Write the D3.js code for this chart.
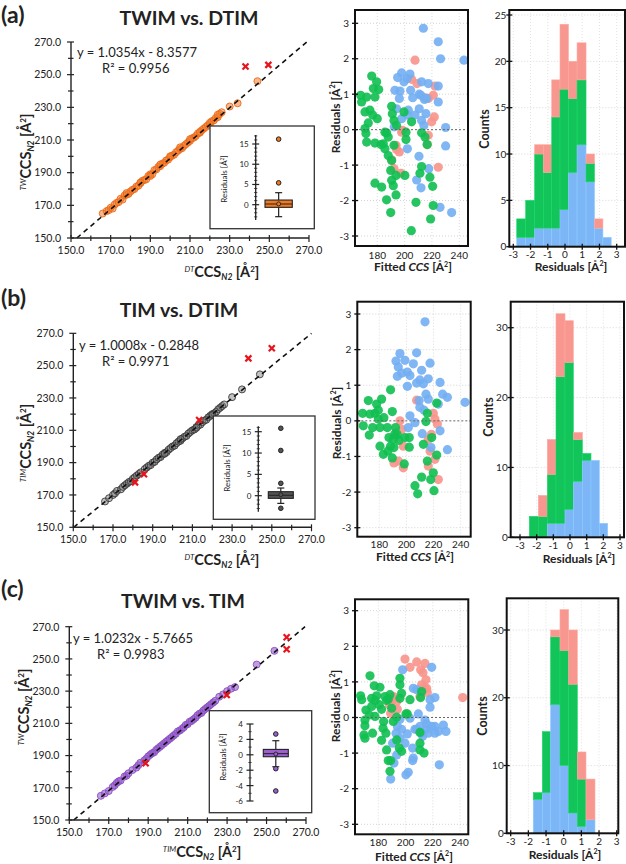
<!DOCTYPE html>
<html><head><meta charset="utf-8">
<script src="https://cdn.jsdelivr.net/npm/d3@7"></script>
<style>body{margin:0;background:#fff}svg{display:block}text{font-family:Lato,'Open Sans',sans-serif;fill:#222}</style>
</head><body><svg id="c" width="626" height="864"></svg>
<script>
// ---------------- DATA ----------------
const panelLabels = ["(a)", "(b)", "(c)"];
const titles = ["TWIM vs. DTIM", "TIM vs. DTIM", "TWIM vs. TIM"];
const equations = ["y = 1.0354x - 8.3577", "y = 1.0008x - 0.2848", "y = 1.0232x - 5.7665"];
const r2Labels = ["R² = 0.9956", "R² = 0.9971", "R² = 0.9983"];
const fitSlopes = [1.0354, 1.0008, 1.0232];
const fitIntercepts = [-8.3577, -0.2848, -5.7665];
const yPrefixes = ["TW", "TIM", "TW"];
const xPrefixes = ["DT", "DT", "TIM"];
const mainTicks = [150, 170, 190, 210, 230, 250, 270];
const residTicksY = [-3, -2, -1, 0, 1, 2, 3];
const residTicksX = [180, 200, 220, 240];
const histTicksX = [-3, -2, -1, 0, 1, 2, 3];
const histTicksY = [[0, 5, 10, 15, 20, 25], [0, 10, 20, 30], [0, 10, 20, 30]];
const insetTicks = [[0, 5, 10, 15], [0, 5, 10, 15], [-6, -4, -2, 0, 2, 4]];

// main scatter (x: reference CCS, y: compared CCS)
const aMain = [[166,165],[168,166.5],[169,167],[170,168.5],[171,168],[172,170.5],[173,171.5],[174,172],[175,174],[176,173.5],[177,176],[178,176.5],[179,177],[180,178.5],[181,179.5],[182,180],[183,181.5],[184,182],[185,183.5],[186,185],[187,185.5],[188,186],[189,188],[190,189],[191,189],[192,191.5],[193,192],[194,193.5],[195,194],[196,195.5],[197,196],[198,197.5],[199,198],[200,199.5],[201,200.5],[202,201],[203,202.5],[204,203.5],[205,204.5],[206,205],[207,206.5],[208,207.5],[209,208.5],[210,209.5],[211,211],[212,211.5],[213,212.5],[214,214],[215,214.5],[216,216],[217,217],[218,218],[219,219],[220,219.5],[221,221.5],[222,222],[223,223.5],[224,224],[225,226],[226,227],[230,230.5],[234,232.5],[244,246],[185,184],[195,195],[205,205.5],[210,210.5],[215,215],[220,220.5],[200,200],[190,188],[178,177.5],[224,225.5]];
const aOut = [[238,255],[249.5,256]];
const bMain = [[166,166],[168,168],[170,170],[171,171],[172,172.5],[174,173.5],[175,175],[176,176],[177,177],[178,178],[179,178.5],[180,180],[181,181],[182,182],[183,183],[184,184],[186,186],[187,187],[188,188],[189,188.5],[190,190],[191,190.5],[192,192],[193,193],[194,193.5],[195,195],[196,196],[197,196.5],[198,198],[199,199],[200,200],[201,200.5],[202,202],[203,203],[204,203.5],[205,205],[206,206],[207,206.5],[208,208],[209,209],[210,210],[211,210.5],[212,212],[213,213],[214,213.5],[215,215],[216,216],[217,216.5],[218,218],[219,219],[220,220],[221,220.5],[222,221.5],[223,223],[224,224],[225,225],[226,226],[230,230.5],[235,235.3],[244,244.6],[196,195.5],[204,204.5],[212,211.5],[220,219.5]];
const bOut = [[238.2,254.5],[250,260.7],[213.4,216.4],[185.6,182.8],[181.1,177.8]];
const cMain = [[166,165],[168,166.5],[170,168],[172,170.5],[173,171.5],[174,173],[175,174],[176,174.5],[178,177],[179,177.5],[180,179],[182,181],[184,182.5],[185,184],[186,185.5],[188,187],[189,188],[190,189.5],[191,190.5],[192,191.5],[193,192],[194,193.5],[195,194.5],[196,195.5],[197,196.5],[198,197.5],[199,198.5],[200,199.5],[201,200.5],[202,201.5],[203,202.5],[204,203.5],[205,205],[206,205.5],[207,206.5],[208,207.5],[209,209],[210,209.5],[211,211],[212,211.5],[213,212.5],[214,213.5],[215,215],[216,216],[217,216.5],[218,218],[219,219],[220,220],[221,221],[222,222],[223,223],[224,224],[226,226.5],[228,228],[230,230],[232,231.5],[234,232.5],[245,246.5],[254,255]];
const cOut = [[260.2,263.4],[260.2,256],[229.8,227.6],[188.7,185.2]];

// residual scatter (x: fitted CCS, y: residual)
const aGreen = [[175.9,1.51],[179.5,1.35],[177.1,1.16],[181.0,1.13],[167.8,0.97],[172.2,0.92],[178.3,0.92],[168.5,0.78],[174.6,0.55],[171.0,0.5],[176.6,0.41],[180.0,0.31],[190.5,0.66],[191.0,0.45],[173.4,0.19],[171.0,0.03],[171.7,-0.11],[172.2,-0.35],[178.3,-0.38],[182.7,-0.42],[186.8,-0.09],[188.0,-0.21],[185.6,-0.54],[188.0,-0.73],[190.5,-0.87],[189.8,-1.15],[193.7,-1.29],[200.2,-1.29],[190.5,-1.43],[191.7,-1.58],[178.3,-1.51],[183.2,-1.62],[186.8,-1.98],[193.7,-1.84],[189.8,-2.34],[204.9,-2.85],[208.3,-2.05],[219.0,-2.52],[220.9,-2.14],[212.4,-0.09],[214.9,-0.21],[216.5,-0.42],[201.0,-0.28],[201.0,-0.07],[205.1,0.22],[199.5,0.5],[218.5,-1.34],[220.5,-1.6],[212.4,-1.04],[211.2,-1.23],[192.2,0.26],[194.1,0.12],[185.6,-0.07],[184.4,-0.4],[192.2,-0.44]];
const aBlue = [[213.7,2.86],[224.6,2.48],[226.3,2.0],[243.4,1.96],[197.8,1.6],[203.9,1.57],[194.9,1.47],[201.9,1.44],[212.4,1.35],[217.3,1.3],[192.9,1.11],[196.6,1.09],[204.4,1.11],[210.7,1.0],[211.9,0.97],[205.9,0.9],[196.1,0.88],[216.1,0.88],[224.6,1.23],[224.6,0.78],[194.1,0.59],[202.7,0.55],[210.7,0.59],[215.6,0.45],[207.6,0.41],[202.0,0.41],[197.8,0.31],[212.4,0.26],[214.1,0.12],[192.4,0.08],[230.0,0.06],[202.0,-0.54],[230.0,-0.46],[210.5,-0.75],[217.6,-1.1],[208.8,-1.42],[212.0,-1.64],[225.9,-2.19],[234.4,-2.34],[199.5,1.35],[214.5,0.85]];
const aPink = [[207.6,1.96],[205.1,1.42],[222.2,1.23],[221.0,0.97],[217.3,0.88],[221.7,0.36],[219.8,0.22],[198.5,-0.02],[197.8,-0.07],[217.3,-0.16],[216.5,-0.42],[193.7,-0.44],[196.1,-0.63],[190.5,-0.85],[192.2,-1.1],[197.3,-1.23],[224.6,-1.06],[214.8,0.9],[209.0,1.3],[194.0,-0.55]];
const bGreen = [[171.9,0.57],[178.0,0.47],[181.7,0.61],[167.7,0.21],[173.1,0.19],[176.8,0.21],[179.3,0.3],[168.2,-0.14],[175.1,-0.19],[172.6,-0.4],[180.5,-0.19],[179.3,0.05],[188.3,0.87],[189.6,0.26],[180.5,-0.71],[183.0,-0.94],[185.9,-0.19],[187.1,-0.47],[188.3,-0.71],[190.8,-0.75],[191.3,-0.38],[192.0,-0.19],[186.4,-0.85],[189.6,-1.04],[198.4,-1.21],[202.1,-0.47],[202.1,-0.74],[198.9,-0.47],[215.4,0.21],[222.3,0.5],[212.5,-0.66],[218.6,-0.47],[217.9,-1.65],[211.2,-1.58],[206.3,-1.82],[208.3,-2.05],[220.3,-1.96],[219.8,-1.46],[215.4,-1.13],[222.3,-0.96],[214.4,-0.02],[183.4,0.09],[193.2,-0.38],[194.5,-0.55],[190.3,-0.52]];
const bBlue = [[213.7,2.78],[195.2,1.89],[207.5,1.91],[192.3,1.68],[198.9,1.7],[205.1,1.6],[211.2,1.42],[217.4,1.62],[194.0,1.51],[196.5,1.34],[200.7,1.37],[193.3,1.25],[202.6,1.27],[209.9,1.15],[216.1,1.18],[207.5,1.06],[212.5,1.04],[200.7,0.97],[224.8,1.08],[226.7,0.75],[230.2,0.66],[214.4,0.75],[216.1,0.61],[209.4,0.57],[209.9,0.38],[223.5,0.47],[243.2,0.52],[202.6,0.14],[201.4,-0.19],[211.7,-0.36],[224.8,-0.28],[218.1,-0.75],[230.2,-0.81],[206.3,-0.05],[213.0,0.3]];
const bPink = [[207.5,0.58],[219.8,0.21],[222.8,-0.09],[221.0,0.05],[195.2,0.0],[196.5,-0.24],[197.7,-0.71],[190.8,-1.18],[194.0,-1.13],[197.7,-1.32],[216.1,-0.52],[217.4,-0.85],[216.1,-1.27],[223.5,-1.65],[221.0,-1.08],[192.3,-0.33],[218.4,-0.38]];
const cGreen = [[167.0,0.61],[167.8,0.5],[173.9,1.17],[177.0,0.89],[181.2,0.85],[175.1,0.54],[177.6,0.48],[178.8,0.61],[170.9,0.21],[170.2,-0.07],[173.4,0.07],[175.1,0.31],[180.7,0.36],[182.4,0.23],[186.1,0.48],[184.9,0.59],[187.3,0.51],[188.6,0.64],[170.2,-0.23],[169.5,-0.49],[170.2,-0.58],[175.8,-0.44],[177.6,0.03],[183.9,-0.11],[183.5,-0.3],[185.6,-0.44],[182.4,-0.64],[186.1,-0.91],[187.3,-1.21],[189.1,-1.21],[188.6,-1.51],[195.9,1.1],[195.9,0.92],[197.1,0.68],[195.9,0.54],[203.3,0.5],[200.3,0.1],[201.3,0.1],[193.5,-0.63],[195.4,-0.86],[197.1,-0.95],[211.8,0.73],[211.1,0.56],[210.6,-0.72],[210.6,-0.91],[213.6,-1.0],[210.6,-0.42],[193.5,0.01],[189.8,0.26],[191.0,-0.11]];
const cBlue = [[197.9,1.34],[219.2,1.41],[205.7,0.82],[208.2,0.78],[218.0,0.5],[221.6,0.56],[218.0,0.29],[209.4,0.1],[203.3,-0.02],[195.9,-0.05],[194.0,-0.25],[197.1,-0.33],[206.9,-0.33],[210.6,-0.25],[211.8,-0.44],[215.5,-0.33],[219.2,-0.25],[216.7,-0.44],[212.6,-0.53],[215.5,-0.18],[221.6,-0.44],[224.1,-0.39],[221.6,-0.25],[227.8,-0.21],[229.7,-0.39],[193.0,-0.44],[190.5,-0.72],[195.9,-0.58],[199.6,-0.72],[193.5,-1.05],[191.5,-1.28],[205.2,-0.86],[205.7,-1.14],[205.2,-1.21],[202.0,-1.54],[200.3,-1.61],[189.1,-1.73],[224.8,-1.33],[208.2,-0.33],[214.3,-0.07],[201.3,-0.46]];
const cPink = [[199.6,1.64],[208.2,1.56],[214.3,1.52],[203.3,1.41],[211.1,1.34],[212.8,1.26],[215.0,1.06],[215.5,0.82],[213.6,0.85],[216.0,0.7],[242.0,0.56],[191.0,0.59],[189.8,0.45],[188.1,0.36],[194.0,0.23],[193.5,0.45],[211.8,0.92],[189.1,0.12],[210.6,0.59]];

// histograms (stacked counts)
const aBinEdges = [-2.8,-2.28,-1.76,-1.26,-0.77,-0.29,0.2,0.7,1.22,1.71,2.2,2.68];
const aBlueCounts = [1,1,2,2,2,4,8,11,7,2,1];
const aGreenCounts = [2,4,8,6,12,13,8,7,2,0,0];
const aPinkCounts = [0,0,1,3,4,7,4,4,1,1,0];
const bBinEdges = [-2.44,-1.9,-1.36,-0.84,-0.3,0.2,0.74,1.26,1.76,2.26];
const bBlueCounts = [0,0,2,2,4,8,11,11,2];
const bGreenCounts = [3,3,7,21,21,6,1,0,0];
const bPinkCounts = [0,3,5,9,6,1,0,0,0];
const cBinEdges = [-1.72,-1.21,-0.74,-0.21,0.28,0.77,1.26,1.77];
const cBlueCounts = [5,6,19,10,3,1,2];
const cGreenCounts = [1,9,10,17,19,7,0];
const cPinkCounts = [0,0,1,6,8,4,6];

// inset box plots of residuals
const boxLow = [-2.96, -1.8, -1.55];
const boxQ1 = [-0.65, -0.62, -0.25];
const boxMedian = [0.17, 0.1, 0.15];
const boxQ3 = [1.15, 0.94, 0.7];
const boxHigh = [2.97, 1.8, 1.83];
const boxMean = [0.2, 0.25, 0.1];
const aBoxOutliers = [5.4, 16.2];
const bBoxOutliers = [15.8, 10.6, 2.9, -2.95];
const cBoxOutliers = [2.7, -1.8, -4.7];

// ---------------- LAYOUT / STYLE ----------------
const mainPts = [aMain, bMain, cMain];
const outPts = [aOut, bOut, cOut];
const residSets = [[aPink, aBlue, aGreen], [bPink, bBlue, bGreen], [cPink, cBlue, cGreen]];
const histSets = [[aBinEdges, aBlueCounts, aGreenCounts, aPinkCounts], [bBinEdges, bBlueCounts, bGreenCounts, bPinkCounts], [cBinEdges, cBlueCounts, cGreenCounts, cPinkCounts]];
const boxOutliers = [aBoxOutliers, bBoxOutliers, cBoxOutliers];

const mainL = [
  {x150:71, x270:309, y150:238, y270:42, labX:1, labY:23, titleX:189, titleY:25, eqX:77, eqY:57, r2X:102, r2Y:73, ylabX:31, ylabY:152, xlabX:222, xlabY:277},
  {x150:73.3, x270:311.5, y150:527.3, y270:333.3, labX:1, labY:306, titleX:179, titleY:316.7, eqX:79, eqY:350, r2X:102, r2Y:366, ylabX:31, ylabY:443, xlabX:222, xlabY:565},
  {x150:69.3, x270:306, y150:820, y270:626.7, labX:1, labY:597, titleX:183, titleY:608, eqX:73, eqY:643, r2X:97, r2Y:659, ylabX:29, ylabY:707, xlabX:202, xlabY:857}
];
const insetL = [
  {fx0:210, fx1:314.3, fy0:126, fy1:228.7, ax:255.7, v0:0, p0:204.7, v1:15, p1:144, lo:-3.8, hi:17.2, bx0:265, bx1:292.3, labX:227, labY:179},
  {fx0:213.3, fx1:315, fy0:416, fy1:519.3, ax:258.3, v0:0, p0:495.7, v1:15, p1:431.7, lo:-3.75, hi:16.3, bx0:268.3, bx1:293.3, labX:230, labY:468},
  {fx0:209.3, fx1:311.7, fy0:710.7, fy1:812.7, ax:250, v0:-6, p0:801, v1:4, p1:724, lo:-6, hi:4, bx0:263.3, bx1:288.3, labX:226, labY:757}
];
const residL = [
  {bx0:355, bx1:468, by0:10, by1:246, xa:377.3, xb:459.3, ya:23.3, yb:236, ylabX:340, ylabY:117, xlabX:413, xlabY:271, tickY:258.5},
  {bx0:357.3, bx1:470.7, by0:301.7, by1:536.7, xa:379.3, xb:460.7, ya:314, yb:527.7, ylabX:341, ylabY:423, xlabX:415, xlabY:561, tickY:548},
  {bx0:355, bx1:468.3, by0:599.3, by1:834.3, xa:378.3, xb:460, ya:610.7, yb:824.3, ylabX:340, ylabY:706, xlabX:414, xlabY:860.5, tickY:845.5}
];
const histL = [
  {bx0:509.3, bx1:625, by0:10, by1:246.7, xa:513.3, xb:616.7, yTop:25, pTop:15, p0:246.7, ylabX:489, ylabY:129, xlabX:571, xlabY:271, tickY:258},
  {bx0:510.7, bx1:624, by0:301.7, by1:537.3, xa:520, xb:620, yTop:30, pTop:327.7, p0:537.3, ylabX:493, ylabY:417, xlabX:579, xlabY:562.5, tickY:548.5},
  {bx0:506.7, bx1:618.3, by0:598.3, by1:833.3, xa:510.7, xb:616.7, yTop:30, pTop:630, p0:833.3, ylabX:487, ylabY:716, xlabX:565, xlabY:859, tickY:845}
];
const mainStyle = [
  {fill:"rgba(243,125,45,0.55)", stroke:"#ec6a18"},
  {fill:"rgba(120,120,120,0.45)", stroke:"#3a3a3a"},
  {fill:"rgba(150,90,205,0.6)", stroke:"#8a50c4"}
];
const boxFill = ["#f07a22", "#555555", "#9b5fcf"];
const residColors = ["#f7938b", "#72aef2", "#0fbf50"];
const histColors = {blue:"#7cb6f6", green:"#12c45a", pink:"#f8978f"};

const svg = d3.select("#c");

function ln(g, x1, y1, x2, y2, st, sw) {
  return g.append("line").attr("x1", x1).attr("y1", y1).attr("x2", x2).attr("y2", y2)
    .attr("stroke", st || "#222").attr("stroke-width", sw || 1);
}
function tx(g, x, y, s, size, anchor, weight) {
  return g.append("text").attr("x", x).attr("y", y).attr("font-size", size)
    .attr("text-anchor", anchor || "start").attr("font-weight", weight || 400).text(s);
}
function ccsLabel(g, x, y, prefix, rotate) {
  const t = g.append("text").attr("text-anchor", "middle").attr("font-weight", 700)
    .attr("transform", `translate(${x},${y})` + (rotate ? " rotate(-90)" : ""));
  t.append("tspan").attr("font-size", 8).attr("font-style", "italic").attr("font-weight", 400).attr("dy", -5).text(prefix);
  t.append("tspan").attr("font-size", 14.5).attr("dy", 5).text("CCS");
  t.append("tspan").attr("font-size", 8.5).attr("font-style", "italic").attr("dy", 3).text("N2");
  t.append("tspan").attr("font-size", 14.5).attr("dy", -3).text(" [Å");
  t.append("tspan").attr("font-size", 8).attr("dy", -5).text("2");
  t.append("tspan").attr("font-size", 14.5).attr("dy", 5).text("]");
}
function resLabel(g, x, y, rotate, size, first) {
  const t = g.append("text").attr("text-anchor", "middle").attr("font-weight", 700).attr("font-size", size)
    .attr("transform", `translate(${x},${y})` + (rotate ? " rotate(-90)" : ""));
  t.append("tspan").text(first);
  t.append("tspan").attr("font-size", size * 0.6).attr("dy", -size * 0.38).text("2");
  t.append("tspan").attr("dy", size * 0.38).text("]");
  return t;
}

function drawMain(p) {
  const L = mainL[p];
  const g = svg.append("g");
  const x = d3.scaleLinear().domain([150, 270]).range([L.x150, L.x270]);
  const y = d3.scaleLinear().domain([150, 270]).range([L.y150, L.y270]);
  tx(g, L.labX, L.labY, panelLabels[p], 23, "start", 700);
  tx(g, L.titleX, L.titleY, titles[p], 19.5, "middle", 700);
  const st = mainStyle[p];
  g.selectAll("circle.m").data(mainPts[p]).join("circle").attr("class", "m")
    .attr("cx", d => x(d[0])).attr("cy", d => y(d[1])).attr("r", 3.5)
    .attr("fill", st.fill).attr("stroke", st.stroke).attr("stroke-width", 0.9);
  const m = fitSlopes[p], b = fitIntercepts[p];
  const xs = (150 - b) / m, xe = Math.min(270, (270 - b) / m);
  ln(g, x(xs), y(m * xs + b), x(xe), y(m * xe + b), "#111", 1.6).attr("stroke-dasharray", "5,4");
  outPts[p].forEach(d => {
    const cx = x(d[0]), cy = y(d[1]), s = 3;
    ln(g, cx - s, cy - s, cx + s, cy + s, "#e8141c", 2.2);
    ln(g, cx - s, cy + s, cx + s, cy - s, "#e8141c", 2.2);
  });
  // axes
  ln(g, x(150), y(150), x(270), y(150), "#222", 1.4);
  ln(g, x(150), y(150), x(150), y(270), "#222", 1.4);
  d3.range(150, 271, 10).forEach(v => {
    const major = mainTicks.includes(v);
    ln(g, x(v), y(150) - (major ? 3 : 2.5), x(v), y(150) + (major ? 4 : 3), "#222", 1.2);
    ln(g, x(150) - (major ? 4 : 3), y(v), x(150) + (major ? 3 : 2.5), y(v), "#222", 1.2);
  });
  mainTicks.forEach(v => {
    tx(g, x(v), y(150) + 16, d3.format(".1f")(v), 10.5, "middle").attr("fill", "#333");
    tx(g, x(150) - 10, y(v) + 3.8, d3.format(".1f")(v), 10.5, "end").attr("fill", "#333");
  });
  tx(g, L.eqX, L.eqY, equations[p], 13, "start");
  tx(g, L.r2X, L.r2Y, r2Labels[p], 13, "start");
  ccsLabel(g, L.ylabX, L.ylabY, yPrefixes[p], true);
  ccsLabel(g, L.xlabX, L.xlabY, xPrefixes[p], false);
}

function drawInset(p) {
  const L = insetL[p];
  const g = svg.append("g");
  g.append("rect").attr("x", L.fx0).attr("y", L.fy0).attr("width", L.fx1 - L.fx0).attr("height", L.fy1 - L.fy0)
    .attr("fill", "#fff").attr("stroke", "#333").attr("stroke-width", 1.3);
  const s = d3.scaleLinear().domain([L.v0, L.v1]).range([L.p0, L.p1]);
  ln(g, L.ax, s(L.lo), L.ax, s(L.hi), "#222", 1.3);
  d3.range(Math.ceil(L.lo), Math.floor(L.hi) + 1, 1).forEach(v => {
    const major = insetTicks[p].includes(v);
    ln(g, L.ax - (major ? 3.5 : 1.6), s(v), L.ax + (major ? 3.5 : 1.6), s(v), "#222", major ? 1.2 : 0.8);
  });
  insetTicks[p].forEach(v => tx(g, L.ax - 7, s(v) + 3, String(v), 8, "end").attr("fill", "#333"));
  resLabel(g, L.labX, L.labY, true, 8, "Residuals [Å").attr("font-weight", 400);
  const cx = (L.bx0 + L.bx1) / 2, cap = 3.5;
  ln(g, cx, s(boxQ3[p]), cx, s(boxHigh[p]), "#222", 1.2);
  ln(g, cx, s(boxQ1[p]), cx, s(boxLow[p]), "#222", 1.2);
  ln(g, cx - cap, s(boxHigh[p]), cx + cap, s(boxHigh[p]), "#222", 1.2);
  ln(g, cx - cap, s(boxLow[p]), cx + cap, s(boxLow[p]), "#222", 1.2);
  g.append("rect").attr("x", L.bx0).attr("y", s(boxQ3[p])).attr("width", L.bx1 - L.bx0)
    .attr("height", s(boxQ1[p]) - s(boxQ3[p])).attr("fill", boxFill[p]).attr("stroke", "#222").attr("stroke-width", 1.1);
  ln(g, L.bx0, s(boxMedian[p]), L.bx1, s(boxMedian[p]), "#222", 1);
  g.append("circle").attr("cx", cx).attr("cy", s(boxMean[p])).attr("r", 2).attr("fill", boxFill[p]).attr("stroke", "#222").attr("stroke-width", 0.9);
  boxOutliers[p].forEach(v => g.append("circle").attr("cx", cx).attr("cy", s(v)).attr("r", 2.3)
    .attr("fill", boxFill[p]).attr("stroke", "#222").attr("stroke-width", 1));
}

function drawResid(p) {
  const L = residL[p];
  const g = svg.append("g");
  const x = d3.scaleLinear().domain([180, 240]).range([L.xa, L.xb]);
  const y = d3.scaleLinear().domain([3, -3]).range([L.ya, L.yb]);
  residTicksY.forEach(v => { if (v !== 0) ln(g, L.bx0, y(v), L.bx1, y(v), "#c8c8c8", 0.8).attr("stroke-dasharray", "1,2"); });
  residTicksX.forEach(v => ln(g, x(v), L.by0, x(v), L.by1, "#d4d4d4", 0.8).attr("stroke-dasharray", "1,2"));
  const cp = g.append("clipPath").attr("id", "rc" + p);
  cp.append("rect").attr("x", L.bx0).attr("y", L.by0).attr("width", L.bx1 - L.bx0).attr("height", L.by1 - L.by0);
  const pg = g.append("g").attr("clip-path", `url(#rc${p})`);
  residSets[p].forEach((set, k) => {
    pg.selectAll("circle.s" + k).data(set).join("circle").attr("class", "s" + k)
      .attr("cx", d => x(d[0])).attr("cy", d => y(d[1])).attr("r", 4.6)
      .attr("fill", residColors[k]).attr("fill-opacity", 0.9);
  });
  ln(g, L.bx0, y(0), L.bx1, y(0), "#666", 1).attr("stroke-dasharray", "2,2");
  g.append("rect").attr("x", L.bx0).attr("y", L.by0).attr("width", L.bx1 - L.bx0).attr("height", L.by1 - L.by0)
    .attr("fill", "none").attr("stroke", "#111").attr("stroke-width", 2);
  residTicksY.forEach(v => {
    ln(g, L.bx0 - 3, y(v), L.bx0 + 3, y(v), "#111", 1.3);
    tx(g, L.bx0 - 6, y(v) + 3.6, String(v), 10, "end").attr("fill", "#333");
  });
  residTicksX.forEach(v => tx(g, x(v), L.tickY, String(v), 10, "middle").attr("fill", "#333"));
  resLabel(g, L.ylabX, L.ylabY, true, 12, "Residuals [Å");
  const t = g.append("text").attr("text-anchor", "middle").attr("font-weight", 700).attr("font-size", 12)
    .attr("x", L.xlabX).attr("y", L.xlabY);
  t.append("tspan").text("Fitted ");
  t.append("tspan").attr("font-style", "italic").text("CCS");
  t.append("tspan").text(" [Å");
  t.append("tspan").attr("font-size", 7).attr("dy", -4.5).text("2");
  t.append("tspan").attr("dy", 4.5).text("]");
}

function drawHist(p) {
  const L = histL[p];
  const g = svg.append("g");
  const x = d3.scaleLinear().domain([-3, 3]).range([L.xa, L.xb]);
  const y = d3.scaleLinear().domain([0, L.yTop]).range([L.p0, L.pTop]);
  histTicksY[p].forEach(v => { if (v) ln(g, L.bx0, y(v), L.bx1, y(v), "#cfcfcf", 0.8).attr("stroke-dasharray", "1,2"); });
  histTicksX.forEach(v => ln(g, x(v), L.by0, x(v), L.by1, "#dadada", 0.8).attr("stroke-dasharray", "1,2"));
  const [edges, blue, green, pink] = histSets[p];
  const rows = blue.map((bv, i) => ({x0: edges[i], x1: edges[i + 1], b: bv, g: green[i], pk: pink[i]}));
  const bar = (v0, v1, d, col) => {
    if (v1 <= v0) return;
    g.append("rect").attr("x", x(d.x0)).attr("width", x(d.x1) - x(d.x0))
      .attr("y", y(v1)).attr("height", y(v0) - y(v1)).attr("fill", col)
      .attr("stroke", d3.color(col).brighter(0.3)).attr("stroke-width", 0.6);
  };
  rows.forEach(d => {
    bar(0, d.b, d, histColors.blue);
    bar(d.b, d.b + d.g, d, histColors.green);
    bar(d.b + d.g, d.b + d.g + d.pk, d, histColors.pink);
  });
  g.append("rect").attr("x", L.bx0).attr("y", L.by0).attr("width", L.bx1 - L.bx0).attr("height", L.by1 - L.by0)
    .attr("fill", "none").attr("stroke", "#111").attr("stroke-width", 2);
  histTicksY[p].forEach(v => {
    ln(g, L.bx0 - 3, y(v), L.bx0 + 3, y(v), "#111", 1.3);
    tx(g, L.bx0 - 3, y(v) + 3.6, String(v), 10, "end").attr("fill", "#333");
  });
  histTicksX.forEach(v => {
    ln(g, x(v), L.by1 - 3, x(v), L.by1 + 3, "#111", 1.3);
    tx(g, x(v), L.tickY, String(v), 10, "middle").attr("fill", "#333");
  });
  tx(g, 0, 0, "Counts", 12.5, "middle", 700).attr("transform", `translate(${L.ylabX},${L.ylabY}) rotate(-90)`).attr("x", null).attr("y", null);
  resLabel(g, L.xlabX, L.xlabY, false, 12, "Residuals [Å");
}

[0, 1, 2].forEach(p => { drawMain(p); drawInset(p); drawResid(p); drawHist(p); });
</script></body></html>
